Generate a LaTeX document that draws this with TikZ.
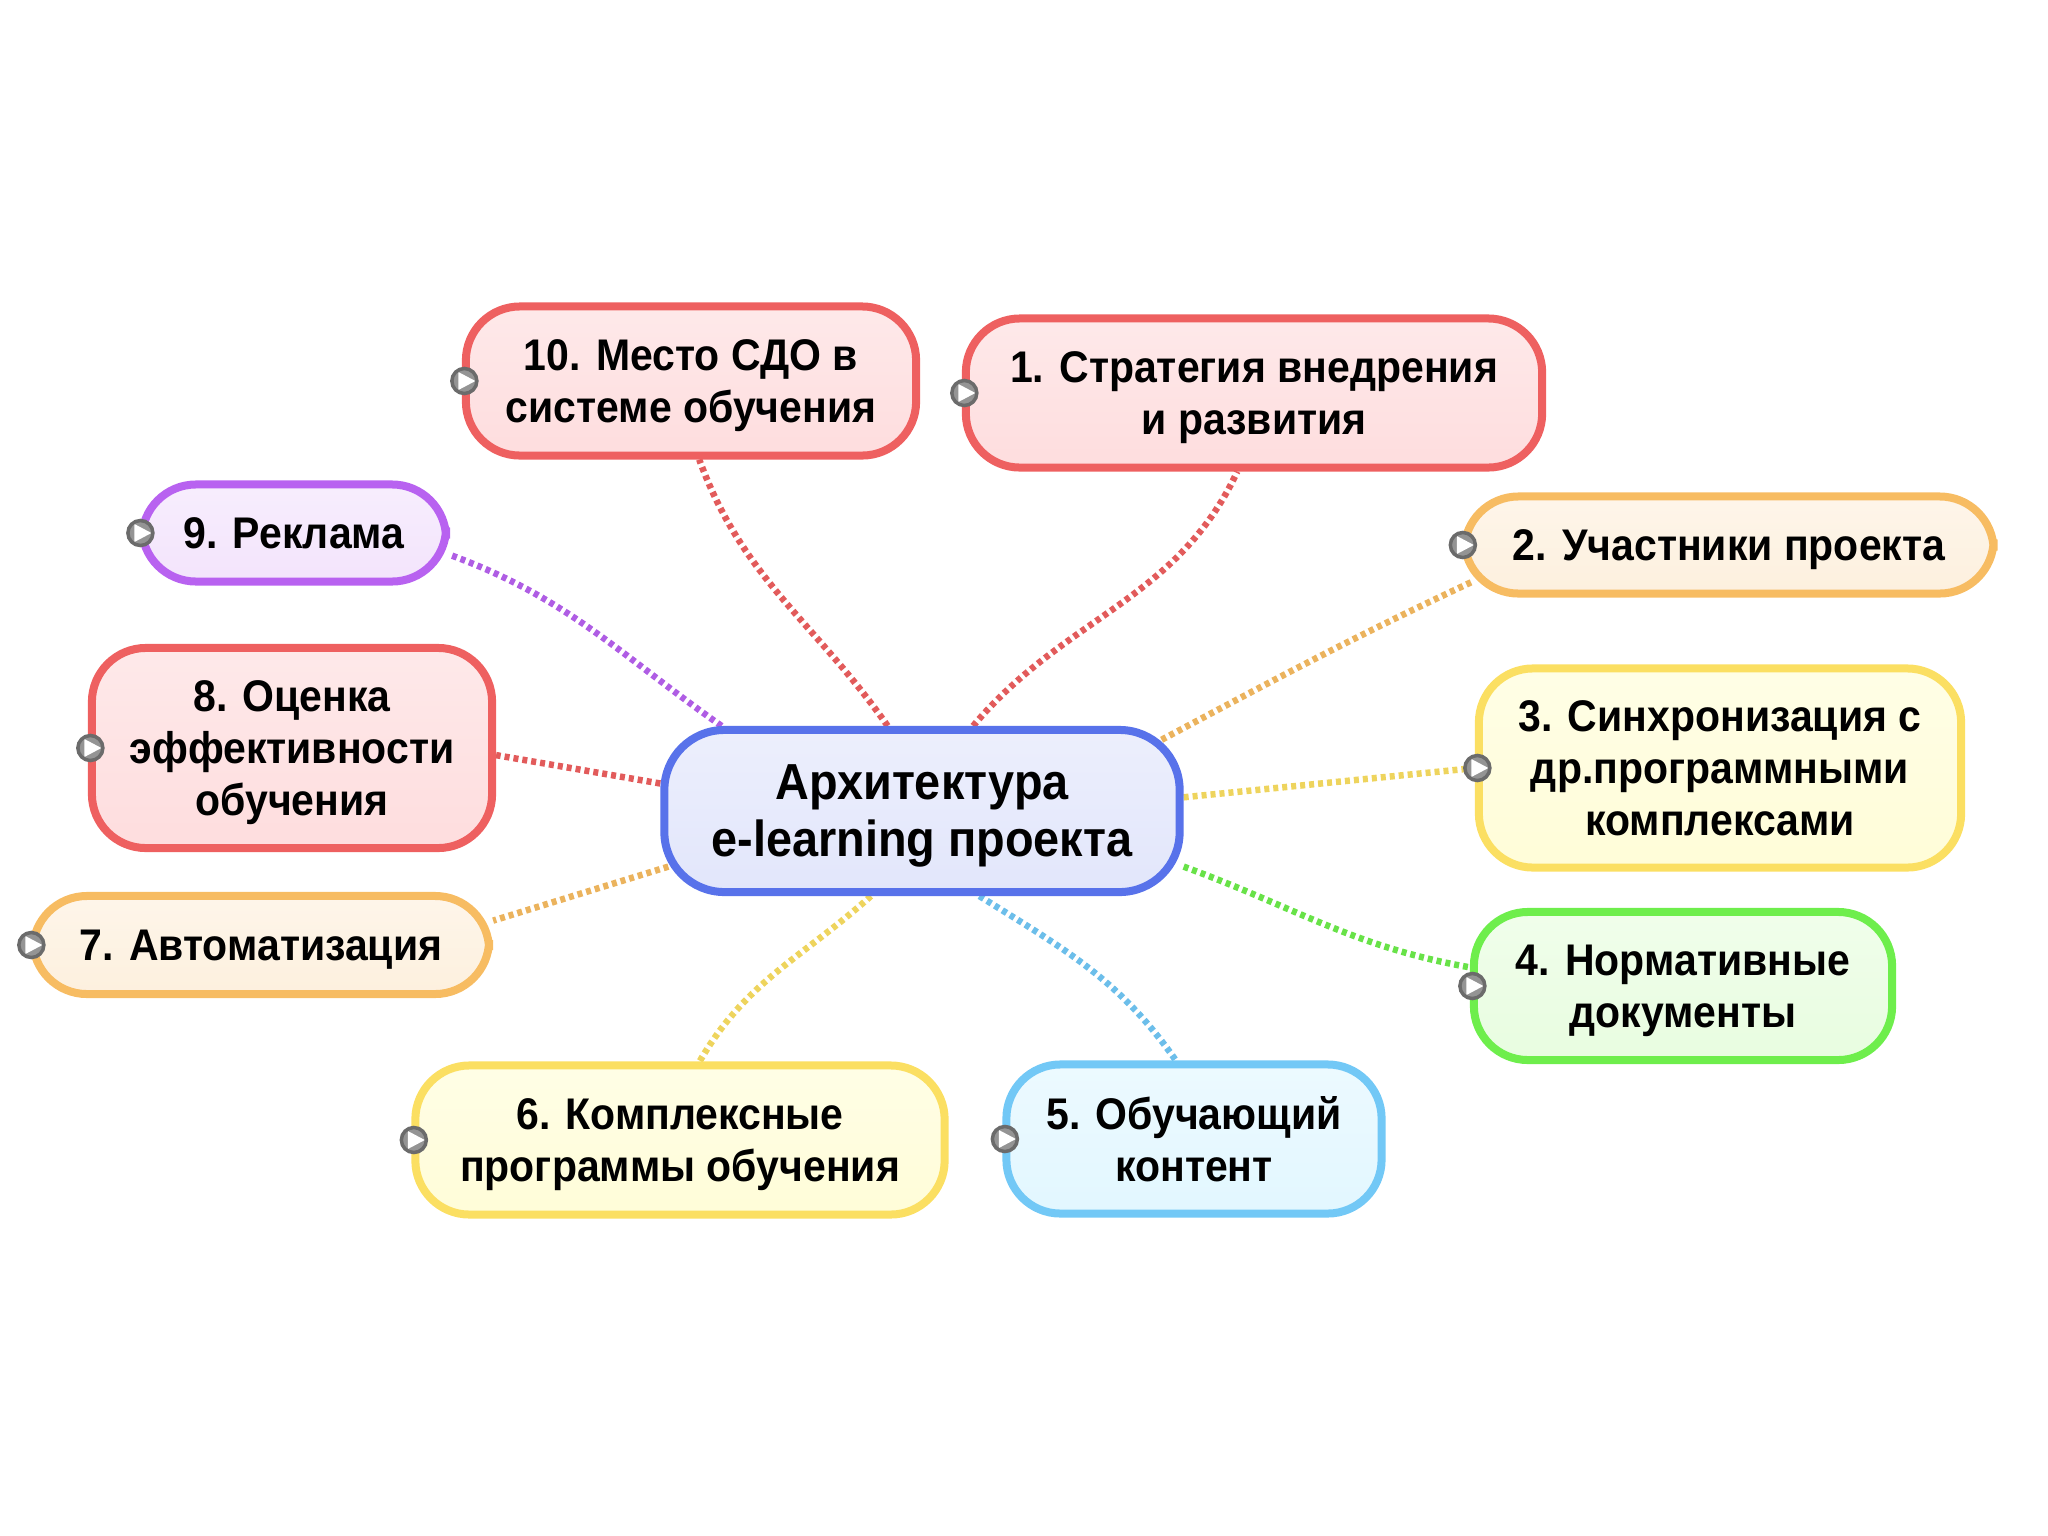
\documentclass[tikz,border=0pt]{standalone}
\usepackage{fontspec}
\setmainfont[FakeStretch=0.925]{Liberation Sans}
\usetikzlibrary{backgrounds}
\definecolor{redline}{HTML}{EE6060}
\definecolor{orangeline}{HTML}{F7BC62}
\definecolor{yellowline}{HTML}{FBDF62}
\definecolor{greenline}{HTML}{6EEE4C}
\definecolor{blueline}{HTML}{72C8F6}
\definecolor{purpleline}{HTML}{B862F0}
\definecolor{rootline}{HTML}{5872EA}
\definecolor{redfill}{HTML}{FEDDDE}
\definecolor{orangefill}{HTML}{FDF0DE}
\definecolor{yellowfill}{HTML}{FFFDD8}
\definecolor{greenfill}{HTML}{E8FDE0}
\definecolor{bluefill}{HTML}{E2F7FF}
\definecolor{purplefill}{HTML}{F3E4FC}
\definecolor{rootfill}{HTML}{E2E6FB}
\tikzset{
    topic/.style 2 args={rectangle, rounded corners=0.54cm, draw=#1, line width=0.08cm, top color=#2!65, middle color=#2, bottom color=#2, align=center, inner sep=0pt, text depth=0pt, font=\fontsize{12.6}{14.8}\selectfont\bfseries},
    link/.style={draw=#1!95!black, line width=0.065cm, dash pattern=on 0.05cm off 0.04cm},
    playicon/.style={circle, draw=black!58, line width=0.035cm, fill=black!42, minimum size=0.25cm, inner sep=0pt, xshift=0.025cm, path picture={\fill[white] ([shift={(-0.06cm,0.09cm)}]path picture bounding box.center) -- ++(0.17cm,-0.09cm) -- ++(-0.17cm,-0.09cm) -- cycle;}}
}
\begin{document}
\begin{tikzpicture}[x=0.01cm, y=-0.01cm]
                \useasboundingbox (0,0) rectangle (2048,1536);
                % central node
                \node[topic={rootline}{rootfill}, minimum width=5.15cm, minimum height=1.62cm, rounded corners=0.6cm, font=\fontsize{14.4}{16.2}\selectfont\bfseries] (root) at (922,811) {Архитектура\\e-learning проекта};
                % topics, clockwise
                \node[topic={redline}{redfill}, minimum width=5.76cm, minimum height=1.49cm] (topic1) at (1254,393) {1. Стратегия внедрения\\и развития};
                \node[topic={orangeline}{orangefill}, minimum width=5.29cm, minimum height=0.97cm] (topic2) at (1729,545) {2. Участники проекта};
                \node[topic={yellowline}{yellowfill}, minimum width=4.82cm, minimum height=1.99cm] (topic3) at (1720,768) {3. Синхронизация с\\др.программными\\комплексами};
                \node[topic={greenline}{greenfill}, minimum width=4.18cm, minimum height=1.48cm] (topic4) at (1683,986) {4. Нормативные\\документы};
                \node[topic={blueline}{bluefill}, minimum width=3.75cm, minimum height=1.49cm] (topic5) at (1194,1139) {5. Обучающий\\контент};
                \node[topic={yellowline}{yellowfill}, minimum width=5.29cm, minimum height=1.49cm] (topic6) at (680,1140) {6. Комплексные\\программы обучения};
                \node[topic={orangeline}{orangefill}, minimum width=4.56cm, minimum height=0.98cm] (topic7) at (261,945) {7. Автоматизация};
                \node[topic={redline}{redfill}, minimum width=4.0cm, minimum height=2.0cm] (topic8) at (292,748) {8. Оценка\\эффективности\\обучения};
                \node[topic={purpleline}{purplefill}, minimum width=3.04cm, minimum height=0.97cm] (topic9) at (294,533) {9. Реклама};
                \node[topic={redline}{redfill}, minimum width=4.5cm, minimum height=1.49cm] (topic10) at (691,381) {10. Место СДО в\\системе обучения};
                % play marks
                \node[playicon] (play1) at (topic1.west) {};
                \node[playicon] (play2) at (topic2.west) {};
                \node[playicon] (play3) at (topic3.west) {};
                \node[playicon] (play4) at (topic4.west) {};
                \node[playicon] (play5) at (topic5.west) {};
                \node[playicon] (play6) at (topic6.west) {};
                \node[playicon] (play7) at (topic7.west) {};
                \node[playicon] (play8) at (topic8.west) {};
                \node[playicon] (play9) at (topic9.west) {};
                \node[playicon] (play10) at (topic10.west) {};
                % links behind the boxes
                \begin{scope}[on background layer]
                \draw[link=redline] (root.59) to[out=50, in=-115] (topic1.258);
                \draw[link=orangeline] ([shift={(-30,8)}]root.16) to[out=28, in=-155] ([shift={(14,-2)}]topic2.188);
                \draw[link=yellowline] (root.3) -- (topic3.west);
                \draw[link=greenline] (root.-12) to[out=-20, in=170] (topic4.175);
                \draw[link=blueline] (root.-56) to[out=-32, in=125] (topic5.103);
                \draw[link=yellowline] (root.239) to[out=222, in=60] (topic6.76);
                \draw[link=orangeline] ([shift={(8,0)}]root.192) -- (topic7.6);
                \draw[link=redline] (root.174) -- (topic8.-2);
                \draw[link=purpleline] (root.157) to[out=145, in=-20] (topic9.-8);
                \draw[link=redline] (root.112) to[out=125, in=-70] (topic10.276);
                \end{scope}
            \end{tikzpicture}
\end{document}
